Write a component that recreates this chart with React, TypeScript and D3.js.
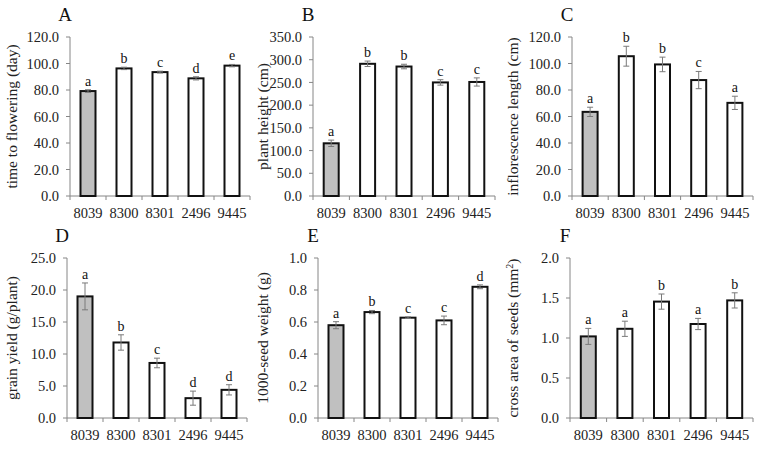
import React from "react";
import * as d3 from "d3";

const categories = ["8039", "8300", "8301", "2496", "9445"];

const floweringMean = [79.2, 96.3, 93.5, 88.8, 98.4];
const floweringErr = [1.0, 0.9, 0.7, 1.2, 0.9];
const floweringLetters = ["a", "b", "c", "d", "e"];

const heightMean = [116, 291, 285, 250, 251];
const heightErr = [7, 6, 5, 6, 9];
const heightLetters = ["a", "b", "b", "c", "c"];

const inflMean = [63.5, 105.5, 99.3, 87.5, 70.3];
const inflErr = [3.5, 7.5, 5.5, 6.5, 5.0];
const inflLetters = ["a", "b", "b", "c", "a"];

const yieldMean = [19.0, 11.8, 8.6, 3.1, 4.4];
const yieldErr = [2.1, 1.2, 0.75, 1.1, 0.8];
const yieldLetters = ["a", "b", "c", "d", "d"];

const seedWeightMean = [0.58, 0.662, 0.627, 0.61, 0.82];
const seedWeightErr = [0.022, 0.01, 0.005, 0.027, 0.012];
const seedWeightLetters = ["a", "b", "c", "c", "d"];

const crossAreaMean = [1.02, 1.115, 1.455, 1.175, 1.47];
const crossAreaErr = [0.1, 0.095, 0.095, 0.07, 0.095];
const crossAreaLetters = ["a", "a", "b", "a", "b"];

const FONT = "Liberation Serif";

type PanelProps = {
  title: string;
  yLabel: React.ReactNode;
  means: number[];
  errs: number[];
  letters: string[];
  yMax: number;
  yStep: number;
  decimals: number;
  x0: number;
  x1: number;
  yTop: number;
  yBottom: number;
  labelX: number;
};

function Panel(p: PanelProps) {
  const x = d3.scaleBand<string>().domain(categories).range([p.x0, p.x1]).paddingInner(0).paddingOuter(0);
  const y = d3.scaleLinear().domain([0, p.yMax]).range([p.yBottom, p.yTop]);
  const ticks = d3.range(0, p.yMax + p.yStep / 2, p.yStep);
  const bw = 15;
  const axisColor = "#868686";
  const boundaries = categories.map((c) => x(c) as number).concat([p.x1]);
  return (
    <g>
      <text x={p.x0 - 5} y={p.yTop - 16} fontFamily={FONT} fontSize={19} textAnchor="middle" fill="#111">
        {p.title}
      </text>
      <text
        transform={`translate(${p.labelX},${(p.yTop + p.yBottom) / 2}) rotate(-90)`}
        fontFamily={FONT}
        fontSize={15.5}
        textAnchor="middle"
        fill="#222"
      >
        {p.yLabel}
      </text>
      {ticks.map((t) => (
        <g key={t}>
          <line x1={p.x0 - 4} x2={p.x0} y1={y(t)} y2={y(t)} stroke={axisColor} />
          <text x={p.x0 - 11} y={y(t)} dy="0.35em" textAnchor="end" fontFamily={FONT} fontSize={14.5} fill="#222">
            {t.toFixed(p.decimals)}
          </text>
        </g>
      ))}
      <line x1={p.x0} x2={p.x0} y1={p.yTop} y2={p.yBottom} stroke={axisColor} />
      <line x1={p.x0} x2={p.x1} y1={p.yBottom} y2={p.yBottom} stroke={axisColor} />
      {boundaries.map((b, i) => (
        <line key={i} x1={b} x2={b} y1={p.yBottom} y2={p.yBottom + 4} stroke={axisColor} />
      ))}
      {categories.map((c, i) => {
        const cx = (x(c) as number) + x.bandwidth() / 2;
        const top = y(p.means[i]);
        const eTop = y(p.means[i] + p.errs[i]);
        const eBot = y(p.means[i] - p.errs[i]);
        return (
          <g key={c}>
            <rect
              x={cx - bw / 2}
              y={top}
              width={bw}
              height={p.yBottom - top}
              fill={i === 0 ? "#c0c0c0" : "#ffffff"}
              stroke="#111"
              strokeWidth={2}
            />
            <line x1={cx} x2={cx} y1={eTop} y2={eBot} stroke="#7a7a7a" strokeWidth={1} />
            <line x1={cx - 3} x2={cx + 3} y1={eTop} y2={eTop} stroke="#7a7a7a" strokeWidth={1} />
            <line x1={cx - 3} x2={cx + 3} y1={eBot} y2={eBot} stroke="#7a7a7a" strokeWidth={1} />
            <text x={cx} y={eTop - 4} textAnchor="middle" fontFamily={FONT} fontSize={14} fill="#111">
              {p.letters[i]}
            </text>
            <text x={cx} y={p.yBottom + 22} textAnchor="middle" fontFamily={FONT} fontSize={14.5} fill="#222">
              {c}
            </text>
          </g>
        );
      })}
    </g>
  );
}

export default function App() {
  const row1 = { yTop: 37, yBottom: 196 };
  const row2 = { yTop: 258, yBottom: 418 };
  return (
    <svg width={761} height={451} style={{ position: "absolute", left: 0, top: 0, background: "#fff" }}>
      <rect width={761} height={451} fill="#fff" />
      <Panel title="A" yLabel="time to flowering (day)" means={floweringMean} errs={floweringErr} letters={floweringLetters}
        yMax={120} yStep={20} decimals={1} x0={70} x1={250} {...row1} labelX={17} />
      <Panel title="B" yLabel="plant height (cm)" means={heightMean} errs={heightErr} letters={heightLetters}
        yMax={350} yStep={50} decimals={1} x0={313} x1={495} {...row1} labelX={268} />
      <Panel title="C" yLabel="inflorescence length (cm)" means={inflMean} errs={inflErr} letters={inflLetters}
        yMax={120} yStep={20} decimals={1} x0={572} x1={753} {...row1} labelX={518} />
      <Panel title="D" yLabel="grain yield (g/plant)" means={yieldMean} errs={yieldErr} letters={yieldLetters}
        yMax={25} yStep={5} decimals={1} x0={67} x1={247} {...row2} labelX={17} />
      <Panel title="E" yLabel="1000-seed weight (g)" means={seedWeightMean} errs={seedWeightErr} letters={seedWeightLetters}
        yMax={1} yStep={0.2} decimals={1} x0={318} x1={498} {...row2} labelX={268} />
      <Panel title="F" yLabel={<>cross area of seeds (mm<tspan dy="-5" fontSize={10}>2</tspan><tspan dy="5">)</tspan></>}
        means={crossAreaMean} errs={crossAreaErr} letters={crossAreaLetters}
        yMax={2} yStep={0.5} decimals={1} x0={570} x1={753} {...row2} labelX={518} />
    </svg>
  );
}
